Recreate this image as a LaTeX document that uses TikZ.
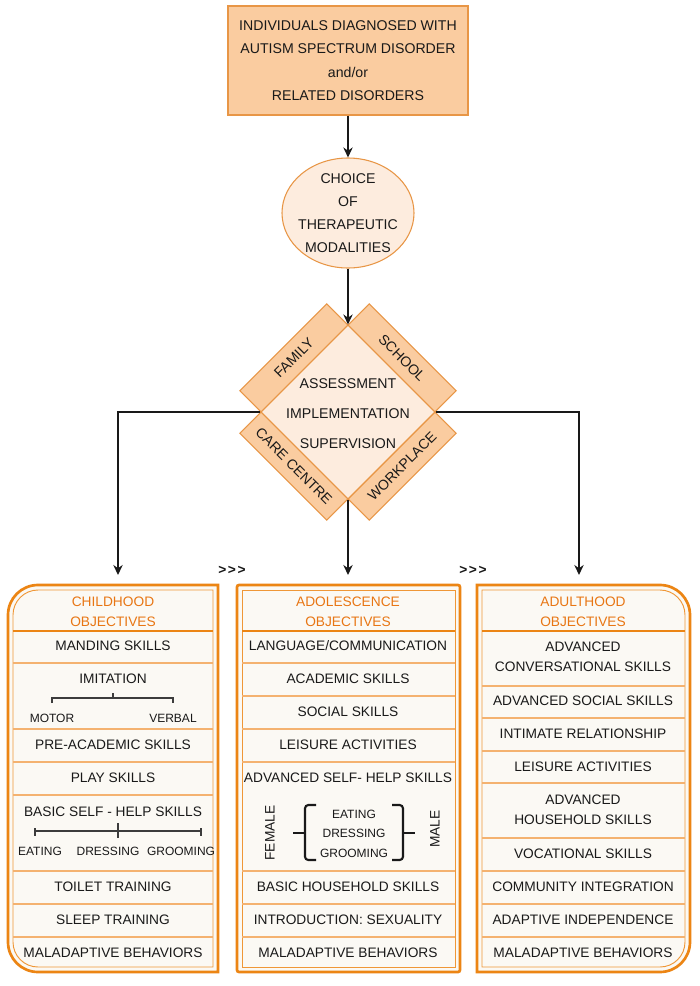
\documentclass[tikz,border=0pt]{standalone}
\usepackage{fontspec}
\setmainfont{Liberation Sans}
\usepackage{tikz}
\usetikzlibrary{arrows.meta,positioning,shapes.geometric}
\usepackage{xcolor}
\newcommand{\rowFont}{\fontsize{10.3}{15}\selectfont}
\newcommand{\subFont}{\fontsize{9}{11}\selectfont}
\newcommand{\nextMark}{>\kern1.2pt>\kern1.2pt>}
\definecolor{BoxFill}{RGB}{250,204,160}
\definecolor{BoxLine}{RGB}{232,150,70}
\definecolor{PaleFill}{RGB}{253,236,222}
\definecolor{FrameOrange}{RGB}{236,133,20}
\definecolor{SepOrange}{RGB}{244,178,112}
\definecolor{HeadOrange}{RGB}{232,118,20}
\definecolor{PaperFill}{RGB}{251,249,244}
\definecolor{InkBlack}{RGB}{25,25,25}

\begin{document}
\begin{tikzpicture}[x=0.75pt,y=-0.75pt,
    topbox/.style={draw=BoxLine,fill=BoxFill,line width=0.8pt,minimum width=180pt,minimum height=81.75pt,align=center,text=InkBlack,font=\fontsize{10.6}{17.5}\selectfont},
    choicebox/.style={ellipse,draw=BoxLine,fill=PaleFill,line width=0.8pt,minimum width=99pt,minimum height=82.5pt,inner sep=0pt},
    hubbox/.style={diamond,aspect=1,draw=BoxLine,fill=PaleFill,line width=0.8pt,minimum width=130.5pt,minimum height=130.5pt,inner sep=0pt},
    band/.style={draw=BoxLine,fill=BoxFill,line width=0.8pt,minimum width=92.25pt,minimum height=22.5pt,inner sep=0pt},
    bandtext/.style={inner sep=0pt,text=InkBlack,font=\fontsize{10.6}{12}\selectfont},
    flowarrow/.style={-{Stealth[length=7.5pt,width=7pt]},line width=1.2pt,draw=InkBlack},
    frameouter/.style={draw=FrameOrange,fill=PaperFill,line width=2pt},
    frameinner/.style={draw=FrameOrange!85,line width=0.7pt},
    headsep/.style={draw=FrameOrange,line width=0.8pt},
    rowsep/.style={draw=SepOrange,line width=0.8pt},
    headtext/.style={align=center,text=HeadOrange,font=\rowFont,inner sep=1pt},
    rowtext/.style={align=center,text=InkBlack,font=\rowFont,inner sep=1pt},
    subtext/.style={align=center,text=InkBlack,font=\subFont,inner sep=1pt},
    bracketline/.style={draw=InkBlack!85,line width=1pt},
    bracethick/.style={draw=InkBlack,line width=1.6pt,rounded corners=2.5pt}]

    \useasboundingbox[fill=white] (0,0) rectangle (700,986);

    % top of the flow
    \node[topbox] (diag) at (348,60.5) {INDIVIDUALS DIAGNOSED WITH\\AUTISM SPECTRUM DISORDER\\and/or\\RELATED DISORDERS};
    \node[choicebox] (choice) at (348,213) {};
    \node[align=center,text=InkBlack,font=\fontsize{10.6}{17.25}\selectfont] (choicetext) at (choice) {CHOICE\\OF\\THERAPEUTIC\\MODALITIES};

    % settings round the hub
    \node[band,rotate=45] (family) at (293.9,357.9) {};
    \node[band,rotate=-45] (school) at (402.1,357.9) {};
    \node[band,rotate=-45] (care) at (293.9,466.1) {};
    \node[band,rotate=45] (work) at (402.1,466.1) {};
    \node[bandtext,rotate=45] (familytext) at (family) {FAMILY};
    \node[bandtext,rotate=-45] (schooltext) at (school) {SCHOOL};
    \node[bandtext,rotate=-45] (caretext) at (care) {CARE CENTRE};
    \node[bandtext,rotate=45] (worktext) at (work) {WORKPLACE};
    \node[hubbox] (hub) at (348,412) {};
    \node[rowtext,font=\fontsize{10.6}{12}\selectfont] (hub1) at (348,384) {ASSESSMENT};
    \node[rowtext,font=\fontsize{10.6}{12}\selectfont] (hub2) at (348,414) {IMPLEMENTATION};
    \node[rowtext,font=\fontsize{10.6}{12}\selectfont] (hub3) at (348,444) {SUPERVISION};

    \draw[flowarrow] (diag) -- (choice);
    \draw[flowarrow] (choice) -- (hub);

    \coordinate (childtop) at (118,575);
    \coordinate (adoltop) at (348,575);
    \coordinate (adulttop) at (579,575);
    \draw[flowarrow] (hub.west) -| (childtop);
    \draw[flowarrow] (hub.south) -- (adoltop);
    \draw[flowarrow] (hub.east) -| (adulttop);

    \node[rowtext,font=\bfseries\rowFont] (nextone) at (232,570) {\nextMark};
    \node[rowtext,font=\bfseries\rowFont] (nexttwo) at (473,570) {\nextMark};

    % childhood column
    \filldraw[frameouter] (218,585) -- (38,585) .. controls (21.4,585) and (8,598.4) .. (8,615) -- (8,942) .. controls (8,958.6) and (21.4,972) .. (38,972) -- (218,972) -- cycle;
    \draw[frameinner] (213,590) -- (38,590) .. controls (24.2,590) and (13,601.2) .. (13,615) -- (13,942) .. controls (13,955.8) and (24.2,967) .. (38,967) -- (213,967) -- cycle;
    \draw[headsep] (13,631) -- (213,631);
    \draw[rowsep] (13,663) -- (213,663);
    \draw[rowsep] (13,729) -- (213,729);
    \draw[rowsep] (13,762) -- (213,762);
    \draw[rowsep] (13,795) -- (213,795);
    \draw[rowsep] (13,871) -- (213,871);
    \draw[rowsep] (13,904) -- (213,904);
    \draw[rowsep] (13,937) -- (213,937);
    \node[headtext] (ch0) at (113,612) {CHILDHOOD\\OBJECTIVES};
    \node[rowtext] (ch1) at (113,646) {MANDING SKILLS};
    \node[rowtext] (ch2) at (113,679) {IMITATION};
    \node[subtext] (ch2a) at (52,718) {MOTOR};
    \node[subtext] (ch2b) at (173,718) {VERBAL};
    \draw[bracketline] (52,703) -- (52,698) -- (173,698) -- (173,703);
    \draw[bracketline] (113,698) -- (113,693);
    \node[rowtext] (ch3) at (113,745) {PRE-ACADEMIC SKILLS};
    \node[rowtext] (ch4) at (113,778) {PLAY SKILLS};
    \node[rowtext] (ch5) at (113,812) {BASIC SELF - HELP SKILLS};
    \draw[bracketline] (35,831) -- (201,831);
    \draw[bracketline,line width=2.2pt] (35,828) -- (35,836);
    \draw[bracketline,line width=2.2pt] (201,828) -- (201,836);
    \draw[bracketline,line width=2.2pt] (118,823) -- (118,838);
    \node[subtext] (ch5a) at (40,851) {EATING};
    \node[subtext] (ch5b) at (108,851) {DRESSING};
    \node[subtext] (ch5c) at (181,851) {GROOMING};
    \node[rowtext] (ch6) at (113,887) {TOILET TRAINING};
    \node[rowtext] (ch7) at (113,920) {SLEEP TRAINING};
    \node[rowtext] (ch8) at (113,953) {MALADAPTIVE BEHAVIORS};

    % adolescence column
    \filldraw[frameouter,rounded corners=1.5pt] (237,585) rectangle (460,972);
    \draw[frameinner] (242,590) rectangle (455,967);
    \draw[headsep] (242,631) -- (455,631);
    \draw[rowsep] (242,663) -- (455,663);
    \draw[rowsep] (242,696) -- (455,696);
    \draw[rowsep] (242,729) -- (455,729);
    \draw[rowsep] (242,762) -- (455,762);
    \draw[rowsep] (242,871) -- (455,871);
    \draw[rowsep] (242,904) -- (455,904);
    \draw[rowsep] (242,937) -- (455,937);
    \node[headtext] (ad0) at (348,612) {ADOLESCENCE\\OBJECTIVES};
    \node[rowtext] (ad1) at (348,646) {LANGUAGE/COMMUNICATION};
    \node[rowtext] (ad2) at (348,679) {ACADEMIC SKILLS};
    \node[rowtext] (ad3) at (348,712) {SOCIAL SKILLS};
    \node[rowtext] (ad4) at (348,745) {LEISURE ACTIVITIES};
    \node[rowtext] (ad5) at (348,778) {ADVANCED SELF- HELP SKILLS};
    \node[rowtext,rotate=90] (ad5f) at (270,833) {FEMALE};
    \node[rowtext,rotate=90] (ad5m) at (435,829) {MALE};
    \node[subtext] (ad5a) at (354,814) {EATING};
    \node[subtext] (ad5b) at (354,833) {DRESSING};
    \node[subtext] (ad5c) at (354,853) {GROOMING};
    \draw[bracethick] (316,805) -- (305,805) -- (305,860) -- (316,860);
    \draw[bracethick] (305,833) -- (293,833);
    \draw[bracethick] (392,805) -- (403,805) -- (403,860) -- (392,860);
    \draw[bracethick] (403,833) -- (415,833);
    \node[rowtext] (ad6) at (348,887) {BASIC HOUSEHOLD SKILLS};
    \node[rowtext] (ad7) at (348,920) {INTRODUCTION: SEXUALITY};
    \node[rowtext] (ad8) at (348,953) {MALADAPTIVE BEHAVIORS};

    % adulthood column
    \filldraw[frameouter] (477,585) -- (660,585) .. controls (676.6,585) and (690,598.4) .. (690,615) -- (690,942) .. controls (690,958.6) and (676.6,972) .. (660,972) -- (477,972) -- cycle;
    \draw[frameinner] (482,590) -- (660,590) .. controls (673.8,590) and (685,601.2) .. (685,615) -- (685,942) .. controls (685,955.8) and (673.8,967) .. (660,967) -- (482,967) -- cycle;
    \draw[headsep] (482,631) -- (685,631);
    \draw[rowsep] (482,686) -- (685,686);
    \draw[rowsep] (482,718) -- (685,718);
    \draw[rowsep] (482,751) -- (685,751);
    \draw[rowsep] (482,783) -- (685,783);
    \draw[rowsep] (482,838) -- (685,838);
    \draw[rowsep] (482,871) -- (685,871);
    \draw[rowsep] (482,904) -- (685,904);
    \draw[rowsep] (482,937) -- (685,937);
    \node[headtext] (ah0) at (583,612) {ADULTHOOD\\OBJECTIVES};
    \node[rowtext] (ah1) at (583,657) {ADVANCED\\CONVERSATIONAL SKILLS};
    \node[rowtext] (ah2) at (583,701) {ADVANCED SOCIAL SKILLS};
    \node[rowtext] (ah3) at (583,734) {INTIMATE RELATIONSHIP};
    \node[rowtext] (ah4) at (583,767) {LEISURE ACTIVITIES};
    \node[rowtext] (ah5) at (583,810) {ADVANCED\\HOUSEHOLD SKILLS};
    \node[rowtext] (ah6) at (583,854) {VOCATIONAL SKILLS};
    \node[rowtext] (ah7) at (583,887) {COMMUNITY INTEGRATION};
    \node[rowtext] (ah8) at (583,920) {ADAPTIVE INDEPENDENCE};
    \node[rowtext] (ah9) at (583,953) {MALADAPTIVE BEHAVIORS};
\end{tikzpicture}
\end{document}
